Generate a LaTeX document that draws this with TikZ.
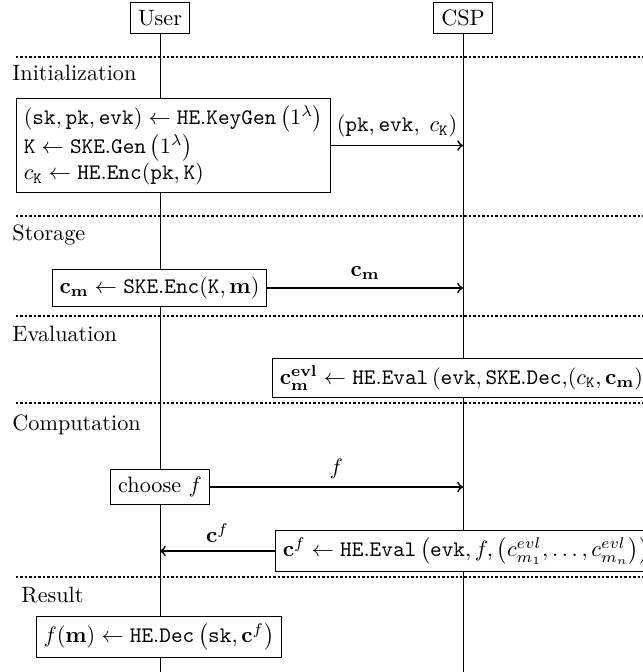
\documentclass[tikz,border=0pt]{standalone}
\usepackage{amsmath}
\begin{document}
\begin{tikzpicture}[x=0.4505pt,y=-0.4505pt,
  box/.style={draw, fill=white, line width=0.4pt},
  msg/.style={->, thick},
  sep/.style={line width=0.6pt, dash pattern=on 1.1pt off 0.9pt},
  phase/.style={anchor=west, inner sep=0pt},
  life/.style={line width=0.4pt}]
\useasboundingbox (0,0) rectangle (643,672);
\clip (0,0) rectangle (643,672);

% participants and their lifelines
\node[box] (user) at (160,18) {User};
\node[box] (csp) at (463,18) {CSP};
\coordinate (userend) at (160,672);
\coordinate (cspend) at (463,672);
\draw[life] (user.south) -- (userend);
\draw[life] (csp.south) -- (cspend);

% phase separators
\foreach \y/\n in {57/s1,216/s2,316/s3,403/s4,577/s5}{
  \coordinate (\n a) at (16,\y);
  \coordinate (\n b) at (660,\y);
  \draw[sep] (\n a) -- (\n b);
}

% phase titles
\node[phase] (tinit) at (12,73) {Initialization};
\node[phase] (tstore) at (12,235) {Storage};
\node[phase] (teval) at (12,334) {Evaluation};
\node[phase] (tcomp) at (12,425) {Computation};
\node[phase] (tres) at (21,595) {Result};

% initialization
\node[box, align=left, anchor=west] (init) at (16,145.5)
  {$(\mathtt{sk},\mathtt{pk},\mathtt{evk})\leftarrow\mathtt{HE.KeyGen}\left(1^{\lambda}\right)$\\
   $\mathtt{K}\leftarrow\mathtt{SKE.Gen}\left(1^{\lambda}\right)$\\
   $c_{\mathtt{K}}\leftarrow\mathtt{HE.Enc}(\mathtt{pk},\mathtt{K})$};
\draw[msg] (init.east) -- node[above] (l1) {$(\mathtt{pk},\mathtt{evk},\;c_{\mathtt{K}})$} (init.east -| csp);

% storage
\node[box] (store) at (159.5,288)
  {$\mathbf{c}_{\mathbf{m}}\leftarrow\mathtt{SKE.Enc}(\mathtt{K},\mathbf{m})$};
\draw[msg] (store.east) -- node[above] (l2) {$\mathbf{c}_{\mathbf{m}}$} (store.east -| csp);

% evaluation
\node[box, anchor=west] (eval) at (272,378)
  {$\mathbf{c}^{\mathbf{evl}}_{\mathbf{m}}\leftarrow\mathtt{HE.Eval}\left(\mathtt{evk},\mathtt{SKE.Dec}{,}(c_{\mathtt{K}},\mathbf{c}_{\mathbf{m}})\right)$};

% computation
\node[box] (choose) at (160,487) {choose $f$};
\draw[msg] (choose.east) -- node[above] (l3) {$f$} (choose.east -| csp);
\node[box, anchor=west] (cf) at (275,551)
  {$\mathbf{c}^{f}\leftarrow\mathtt{HE.Eval}\left(\mathtt{evk},f,\left(c^{evl}_{m_1},\ldots,c^{evl}_{m_n}\right)\right)$};
\draw[msg] (cf.west) -- node[above] (l4) {$\mathbf{c}^{f}$} (cf.west -| user);

% result
\node[box] (res) at (159,637)
  {$f(\mathbf{m})\leftarrow\mathtt{HE.Dec}\left(\mathtt{sk},\mathbf{c}^{f}\right)$};
\end{tikzpicture}
\end{document}
